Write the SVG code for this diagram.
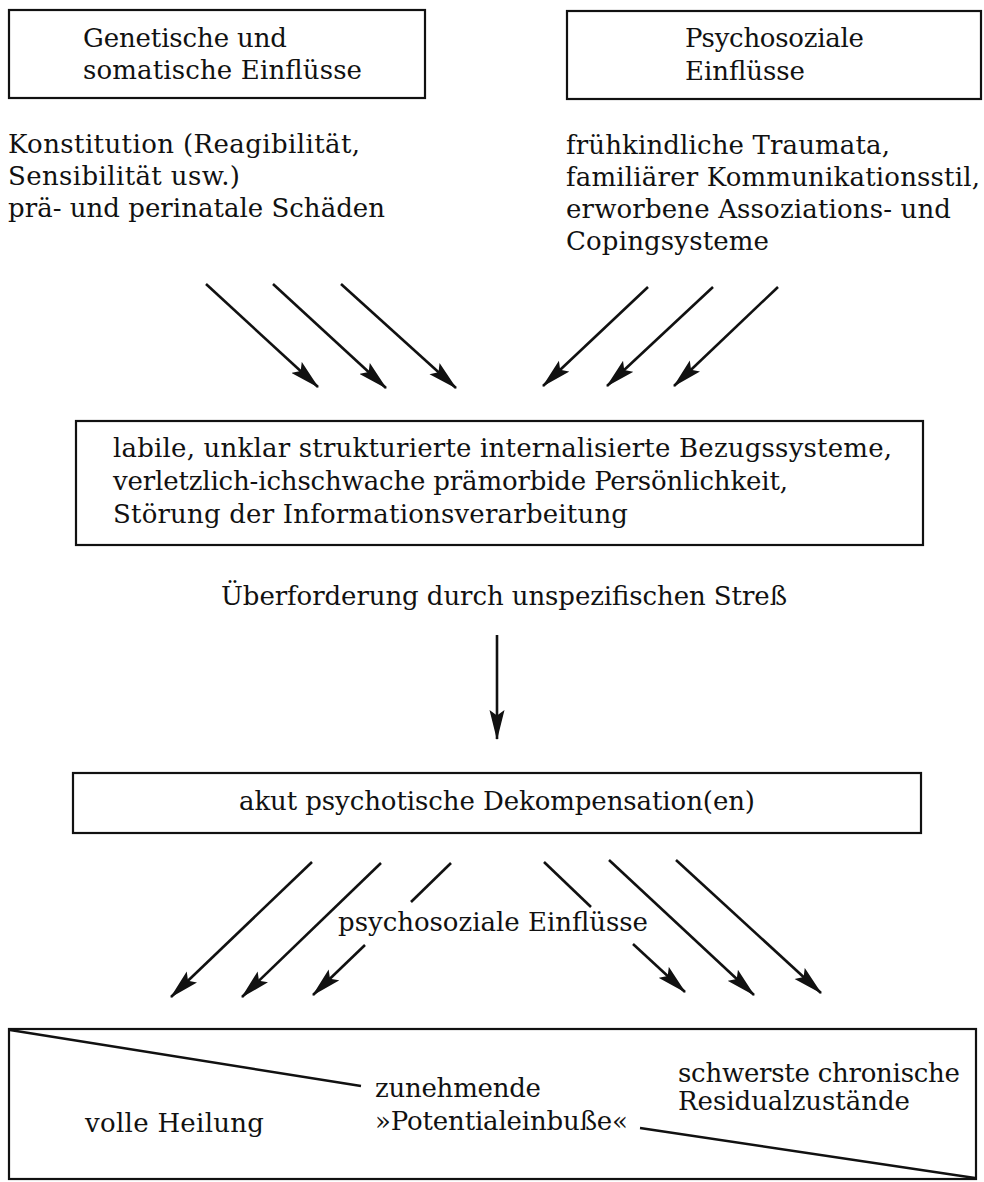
<svg xmlns="http://www.w3.org/2000/svg" width="984" height="1182" viewBox="0 0 984 1182">
<style>
text { font-family: "DejaVu Serif", "Liberation Serif", serif; font-size: 26px; fill: #111; }
.box { fill: none; stroke: #111; stroke-width: 2.2; }
.arr { fill: none; stroke: #111; stroke-width: 2.6; }
.arrh { fill: none; stroke: #111; stroke-width: 2.6; marker-end: url(#ah); }
.div { fill: none; stroke: #111; stroke-width: 2.4; }
</style>
<defs>
<marker id="ah" markerUnits="userSpaceOnUse" markerWidth="30" markerHeight="16" viewBox="0 0 28 14" refX="27" refY="7" orient="auto">
<path d="M0,0 L28,7 L0,14 L5,7 z" fill="#111"/>
</marker>
</defs>
<rect width="984" height="1182" fill="#fff"/>

<g id="node-genetisch">
<rect class="box" x="9" y="10" width="416" height="88"/>
<text x="83" y="47" textLength="204">Genetische und</text>
<text x="83" y="79" textLength="279">somatische Einflüsse</text>
</g>

<g id="node-psychosozial">
<rect class="box" x="567" y="11" width="414" height="88"/>
<text x="685" y="47" textLength="179">Psychosoziale</text>
<text x="685" y="80" textLength="120">Einflüsse</text>
</g>

<g id="text-genetisch">
<text x="8" y="153" textLength="352">Konstitution (Reagibilität,</text>
<text x="8" y="185" textLength="232">Sensibilität usw.)</text>
<text x="8" y="217" textLength="377">prä- und perinatale Schäden</text>
</g>

<g id="text-psychosozial">
<text x="566" y="154" textLength="324">frühkindliche Traumata,</text>
<text x="566" y="186" textLength="414">familiärer Kommunikationsstil,</text>
<text x="566" y="218" textLength="385">erworbene Assoziations- und</text>
<text x="566" y="250" textLength="203">Copingsysteme</text>
</g>

<g id="node-bezugssysteme">
<rect class="box" x="76" y="421" width="847" height="124"/>
<text x="113" y="457" textLength="779">labile, unklar strukturierte internalisierte Bezugssysteme,</text>
<text x="113" y="490" textLength="675">verletzlich-ichschwache prämorbide Persönlichkeit,</text>
<text x="113" y="523" textLength="515">Störung der Informationsverarbeitung</text>
</g>

<g id="label-stress">
<text x="221" y="605" textLength="566">Überforderung durch unspezifischen Streß</text>
</g>

<g id="node-dekompensation">
<rect class="box" x="73" y="773" width="848" height="60"/>
<text x="239" y="810" textLength="516">akut psychotische Dekompensation(en)</text>
</g>

<g id="label-psychosozial">
<text x="338" y="931" textLength="310">psychosoziale Einflüsse</text>
</g>

<g id="node-verlauf">
<rect class="box" x="9" y="1029" width="967" height="150"/>
<line class="div" x1="10" y1="1030" x2="361" y2="1086"/>
<line class="div" x1="640" y1="1128" x2="975" y2="1178"/>
<text x="85" y="1132" textLength="179">volle Heilung</text>
<text x="375" y="1097" textLength="166">zunehmende</text>
<text x="375" y="1130" textLength="253">»Potentialeinbuße«</text>
<text x="678" y="1082" textLength="282">schwerste chronische</text>
<text x="678" y="1110" textLength="232">Residualzustände</text>
</g>

<g id="connectors">
<line class="arrh" x1="206" y1="284" x2="318" y2="387"/>
<line class="arrh" x1="273" y1="284" x2="386" y2="388"/>
<line class="arrh" x1="341" y1="284" x2="456" y2="388"/>
<line class="arrh" x1="648" y1="287" x2="543" y2="386"/>
<line class="arrh" x1="713" y1="287" x2="607" y2="386"/>
<line class="arrh" x1="778" y1="287" x2="674" y2="386"/>
<line class="arrh" x1="497" y1="635" x2="497" y2="739"/>
<line class="arrh" x1="312" y1="862" x2="171" y2="997"/>
<line class="arrh" x1="381" y1="863" x2="242" y2="997"/>
<line class="arr" x1="451" y1="863" x2="411" y2="902"/>
<line class="arrh" x1="365" y1="945" x2="313" y2="995"/>
<line class="arr" x1="544" y1="862" x2="591" y2="907"/>
<line class="arrh" x1="633" y1="944" x2="685" y2="992"/>
<line class="arrh" x1="609" y1="860" x2="754" y2="995"/>
<line class="arrh" x1="676" y1="860" x2="821" y2="993"/>
</g>
</svg>
